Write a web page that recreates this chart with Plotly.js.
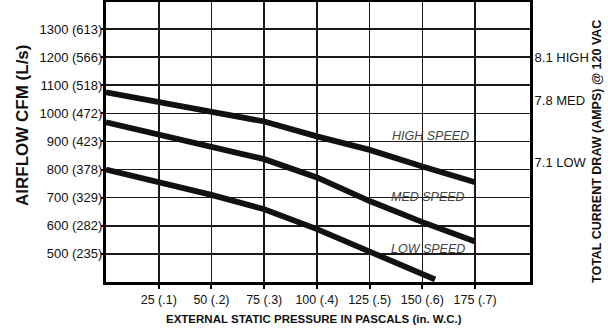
<!DOCTYPE html>
<html>
<head>
<meta charset="utf-8">
<script src="https://cdn.plot.ly/plotly-3.0.1.min.js"></script>
<style>html,body{margin:0;padding:0;background:#fff;}#chart{width:608px;height:331px;}</style>
</head>
<body>
<div id="chart"></div>
<script>
const pressure = [0, 25, 50, 75, 100, 125, 150, 175];
const highSpeed = [1075, 1042, 1007, 971, 918, 870, 811, 755];
const medSpeed = [968, 924, 882, 837, 772, 688, 613, 544];
const lowPressure = [0, 25, 50, 75, 100, 125, 150, 156];
const lowSpeed = [800, 755, 710, 659, 588, 508, 425, 409];

const xTickVals = [25, 50, 75, 100, 125, 150, 175];
const xTickText = ['25 (.1)', '50 (.2)', '75 (.3)', '100 (.4)', '125 (.5)', '150 (.6)', '175 (.7)'];
const yTickVals = [500, 600, 700, 800, 900, 1000, 1100, 1200, 1300];
const yTickText = ['500 (235)', '600 (282)', '700 (329)', '800 (378)', '900 (423)', '1000 (472)', '1100 (518)', '1200 (566)', '1300 (613)'];
const ampVals = [1200, 1045, 825];
const ampText = ['8.1 HIGH', '7.8 MED', '7.1 LOW'];
const curveLabels = ['HIGH SPEED', 'MED SPEED', 'LOW SPEED'];
const labelX = [154, 152.5, 152.5];
const labelY = [921, 704, 517];

const font = 'Liberation Sans, Arial, sans-serif';
const lineStyle = {color: '#111', width: 5.8};

const traces = [
  {x: pressure, y: highSpeed, mode: 'lines', line: lineStyle, hoverinfo: 'skip'},
  {x: pressure, y: medSpeed, mode: 'lines', line: lineStyle, hoverinfo: 'skip'},
  {x: lowPressure, y: lowSpeed, mode: 'lines', line: lineStyle, hoverinfo: 'skip'},
  {x: [0], y: [0], yaxis: 'y2', mode: 'markers', marker: {opacity: 0}, hoverinfo: 'skip'}
];

const yRange = [400, 1396];
const annotations = curveLabels.map((t, i) => ({
  x: labelX[i], y: labelY[i], xref: 'x', yref: 'y', text: '<i>' + t + '</i>',
  showarrow: false, font: {family: font, size: 12.5, color: '#444'}
}));
const W = 608, H = 331, L = 106, R = 78, T = 2, B = 49;
const pw = W - L - R, ph = H - T - B;
function px(x, y, text, angle, size) {
  return {
    xref: 'paper', yref: 'paper', x: (x - L) / pw, y: 1 - (y - T) / ph,
    xanchor: 'center', yanchor: 'middle', text: text, textangle: angle,
    showarrow: false, font: {family: font, size: size, color: '#111'}
  };
}
annotations.push(px(22, 126, '<b>AIRFLOW CFM (L/s)</b>', -90, 17));
annotations.push(px(314, 319, '<b>EXTERNAL STATIC PRESSURE IN PASCALS (in. W.C.)</b>', 0, 11.5));
annotations.push(px(597, 152, '<b>TOTAL CURRENT DRAW (AMPS) @ 120 VAC</b>', -90, 12.5));

const layout = {
  width: W, height: H,
  margin: {l: L, r: R, t: T, b: B},
  paper_bgcolor: '#fff', plot_bgcolor: '#fff',
  showlegend: false,
  font: {family: font, color: '#111'},
  xaxis: {
    range: [0, 201], tickvals: xTickVals, ticktext: xTickText,
    showgrid: true, gridcolor: '#1a1a1a', gridwidth: 1.6,
    zeroline: false, showline: true, linecolor: '#000', linewidth: 3, mirror: true,
    ticks: 'outside', ticklen: 4, tickcolor: '#000', tickwidth: 2,
    tickfont: {family: font, size: 12.5, color: '#111'}
  },
  yaxis: {
    range: yRange, tickvals: yTickVals, ticktext: yTickText,
    showgrid: true, gridcolor: '#1a1a1a', gridwidth: 1.6,
    zeroline: false, showline: true, linecolor: '#000', linewidth: 3, mirror: true,
    ticks: 'outside', ticklen: 2, tickcolor: '#000', tickwidth: 2,
    ticklabelstandoff: -4,
    tickfont: {family: font, size: 13, color: '#111'}
  },
  yaxis2: {
    range: yRange, overlaying: 'y', side: 'right', tickvals: ampVals, ticktext: ampText,
    showgrid: false, zeroline: false, showline: false,
    ticks: 'outside', ticklen: 2, tickcolor: '#000', tickwidth: 2,
    ticklabelstandoff: -1,
    tickfont: {family: font, size: 13, color: '#111'}
  },
  annotations: annotations
};

Plotly.newPlot('chart', traces, layout, {displayModeBar: false, staticPlot: true});
</script>
</body>
</html>
